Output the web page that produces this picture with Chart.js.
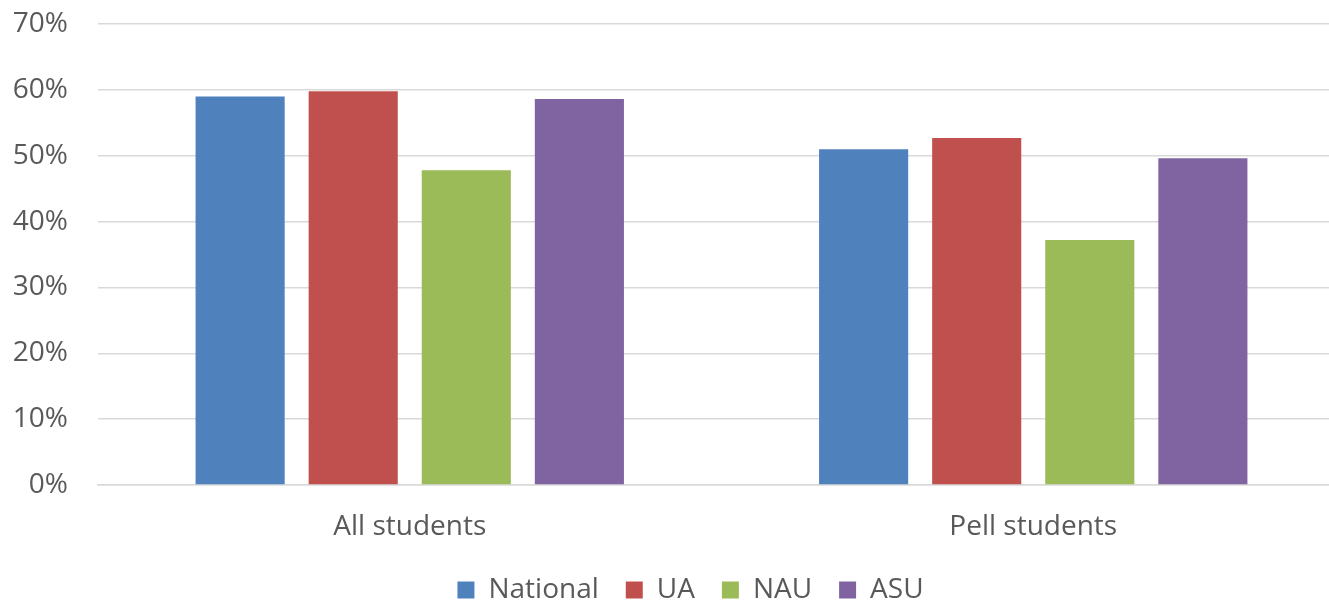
<!DOCTYPE html>
<html>
<head>
<meta charset="utf-8">
<script src="https://cdn.jsdelivr.net/npm/chart.js@4"></script>
<style>
  html, body { margin: 0; padding: 0; background: #fff; overflow: hidden; }
  #wrap { width: 1329px; height: 604px; overflow: hidden; }
</style>
</head>
<body>
<div id="wrap"><canvas id="chart" width="1345" height="604"></canvas></div>
<script>
const categories = ["All students", "Pell students"];
const national = [59.0, 51.0];
const ua = [59.8, 52.7];
const nau = [47.8, 37.2];
const asu = [58.6, 49.6];

const font = "Open Sans";

// nudge the legend a little right, like the original
const legendShift = {
  id: "legendShift",
  afterLayout(chart) {
    chart.legend.left += 18;
    chart.legend.right += 18;
  },
};

new Chart(document.getElementById("chart"), {
  type: "bar",
  data: {
    labels: categories,
    datasets: [
      { label: "National", data: national, backgroundColor: "#4f81bd" },
      { label: "UA", data: ua, backgroundColor: "#c0504d" },
      { label: "NAU", data: nau, backgroundColor: "#9bbb59" },
      { label: "ASU", data: asu, backgroundColor: "#8064a2" },
    ],
  },
  plugins: [legendShift],
  options: {
    responsive: false,
    animation: false,
    categoryPercentage: 0.7255,
    barPercentage: 0.788,
    layout: { padding: { top: 0, right: 0, left: 0, bottom: -10 } },
    plugins: {
      tooltip: { enabled: false },
      legend: {
        position: "bottom",
        labels: {
          boxWidth: 17,
          boxHeight: 17,
          color: "#595959",
          font: { family: font, size: 28, lineHeight: 1 },
          padding: 27,
        },
      },
    },
    scales: {
      y: {
        min: 0,
        max: 70,
        ticks: {
          stepSize: 10,
          color: "#595959",
          font: { family: font, size: 28 },
          padding: 30,
          callback: (v) => v + "%",
        },
        grid: { color: "#d9d9d9", lineWidth: 1.5, drawTicks: false },
        border: { display: false },
        afterFit: (s) => {
          s.width = 98;
          s.paddingTop = 24;
          s.paddingBottom = 0;
        },
      },
      x: {
        ticks: {
          color: "#595959",
          font: { family: font, size: 28 },
          padding: 25,
        },
        grid: { display: false, drawTicks: false },
        border: { color: "#d9d9d9", width: 1.5 },
        afterFit: (s) => { s.height = 64; },
      },
    },
  },
});
</script>
</body>
</html>
